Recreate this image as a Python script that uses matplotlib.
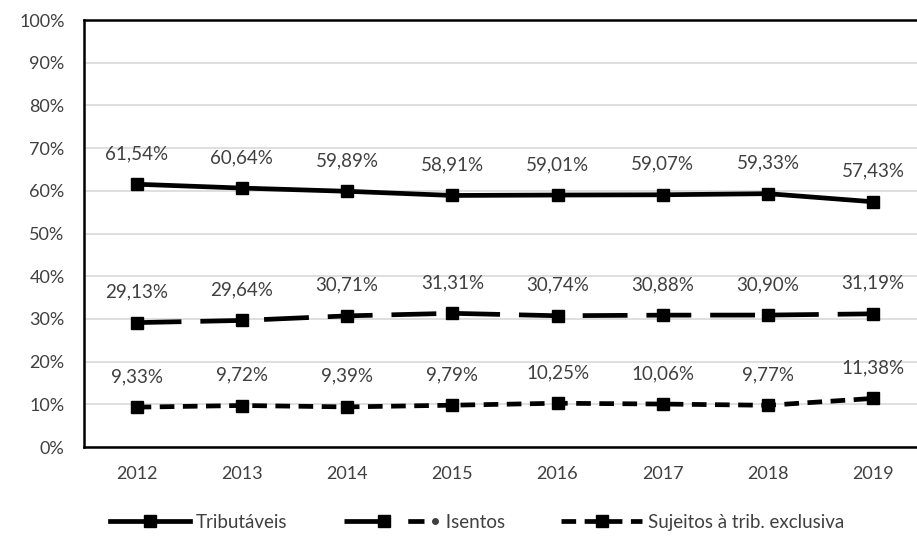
import matplotlib.pyplot as plt
from matplotlib.ticker import FuncFormatter

plt.rcParams['font.family'] = ['Lato', 'DejaVu Sans']
plt.rcParams['font.size'] = 14

# dados (percentuais)
anos = ['2012', '2013', '2014', '2015', '2016', '2017', '2018', '2019']
tributaveis = [61.54, 60.64, 59.89, 58.91, 59.01, 59.07, 59.33, 57.43]
isentos = [29.13, 29.64, 30.71, 31.31, 30.74, 30.88, 30.90, 31.19]
exclusiva = [9.33, 9.72, 9.39, 9.79, 10.25, 10.06, 9.77, 11.38]
nomes = ['Tributáveis', '• Isentos', 'Sujeitos à trib. exclusiva']

cor_texto = '#404040'
lw = 3.4

fig = plt.figure(figsize=(9.17, 5.45), dpi=100)
ax = fig.add_axes([0.0916, 0.1798, 0.918, 0.7835])

x = list(range(len(anos)))
series = [tributaveis, isentos, exclusiva]
# tracejados (comprimentos em múltiplos da espessura da linha)
estilos = ['-', (0, (9.5, 4.0)), (0, (3.1, 1.8))]

for vals, nome, ls in zip(series, nomes, estilos):
    ax.plot(x, vals, color='black', linewidth=lw, linestyle=ls,
            marker='s', markersize=8.5, label=nome)
    for xi, v in zip(x, vals):
        ax.annotate(f'{v:.2f}%'.replace('.', ','), (xi, v), xytext=(0, 22),
                    textcoords='offset points', ha='center', va='center',
                    color=cor_texto, fontsize=13.5)

ax.set_xlim(-0.5, 7.5)
ax.set_ylim(0, 100)
ax.set_xticks(x)
ax.set_xticklabels(anos)
ax.set_yticks(range(0, 101, 10))
ax.yaxis.set_major_formatter(FuncFormatter(lambda v, p: f'{v:.0f}%'))
ax.tick_params(length=0, colors=cor_texto, labelsize=13)
ax.tick_params(axis='x', pad=14)
ax.tick_params(axis='y', pad=14)

ax.grid(axis='y', color='#d9d9d9', linewidth=1.2)
ax.set_axisbelow(True)
for s in ['left', 'top', 'bottom']:
    ax.spines[s].set_linewidth(1.8)
    ax.spines[s].set_color('black')
ax.spines['right'].set_visible(False)

fig.legend(loc='lower center', bbox_to_anchor=(0.52, -0.005), ncol=3,
           frameon=False, handlelength=4.3, columnspacing=3.0,
           handletextpad=0.3, labelcolor=cor_texto, fontsize=13.5)

plt.savefig('out.png', dpi=100)
